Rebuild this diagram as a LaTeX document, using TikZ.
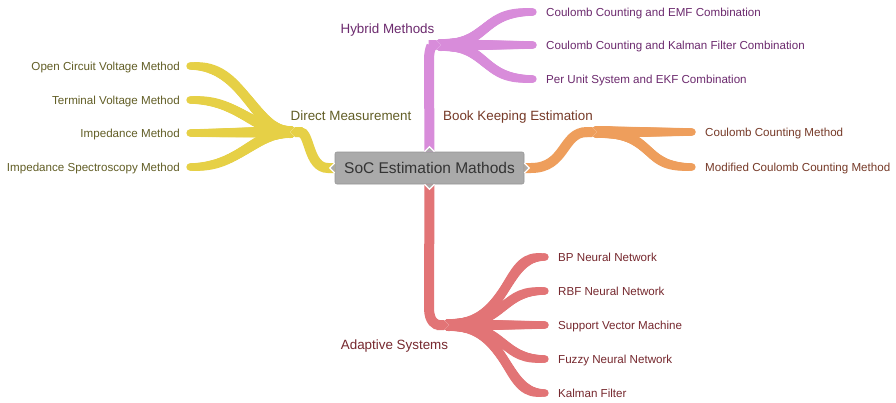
\documentclass[tikz,border=0pt]{standalone}
\usepackage{fontspec}
\setmainfont{Liberation Sans}
\usetikzlibrary{arrows.meta,decorations.markings}

\definecolor{ybranch}{RGB}{230,208,70}
\definecolor{ytext}{RGB}{98,94,38}
\definecolor{pbranch}{RGB}{216,140,218}
\definecolor{ptext}{RGB}{108,42,110}
\definecolor{obranch}{RGB}{238,158,92}
\definecolor{otext}{RGB}{118,58,40}
\definecolor{rbranch}{RGB}{226,116,118}
\definecolor{rtext}{RGB}{118,40,46}
\definecolor{boxfill}{RGB}{170,170,170}
\definecolor{boxline}{RGB}{150,150,150}
\definecolor{boxtext}{RGB}{52,52,52}

\pgfdeclarelayer{branches}
\pgfsetlayers{branches,main}

\tikzset{
  % main branch from the central box to a category
  stem/.style={color=#1, line width=10pt, -{Triangle Cap}},
  % white outline that cuts the notch into the following fan
  halo/.style={white, line width=13pt, -{Triangle Cap}},
  % tapered leaf branch: thick at the root, thin and pointed at the tip
  leaf/.style={color=#1, line width=7.6pt, -{Triangle Cap},
    postaction={decorate, decoration={markings,
      mark=between positions 0 and 1 step 0.01 with {%
        \pgfmathsetmacro\rr{6-2.2*\pgfkeysvalueof{/pgf/decoration/mark info/distance from start}/\pgfdecoratedpathlength}%
        \fill[#1] (0,0) circle (\rr pt);}}}},
  leaflabel/.style={inner sep=0pt, font=\fontsize{11.6}{13}\selectfont,
    text height=8.3pt, text depth=0pt},
  catlabel/.style={inner sep=0pt, font=\fontsize{13.4}{15}\selectfont,
    text height=9.6pt, text depth=0pt},
  centralbox/.style={draw=boxline, fill=boxfill, rounded corners=2pt,
    line width=0.6pt, minimum width=189pt, minimum height=32pt, inner sep=0pt,
    text=boxtext, font=\fontsize{15.5}{18}\selectfont,
    text height=11.1pt, text depth=0pt},
  boxpoint/.style={fill=boxfill, draw=white, line width=1.2pt}
}

\begin{document}
\begin{tikzpicture}[x=1pt, y=-1pt]
\useasboundingbox (0,0) rectangle (896,402);

% ---- central topic ----
\node[centralbox] (soc) at (429.5,168) {SoC Estimation Mathods};
\filldraw[boxpoint] ([yshift=5pt]soc.west) -- ([xshift=-5pt]soc.west) -- ([yshift=-5pt]soc.west);
\filldraw[boxpoint] ([yshift=5pt]soc.east) -- ([xshift=5pt]soc.east) -- ([yshift=-5pt]soc.east);
\filldraw[boxpoint] ([xshift=-5pt]soc.north) -- ([yshift=5pt]soc.north) -- ([xshift=5pt]soc.north);
\filldraw[boxpoint] ([xshift=-5pt]soc.south) -- ([yshift=-5pt]soc.south) -- ([xshift=5pt]soc.south);

% ---- category labels ----
\node[catlabel, text=ytext] (dm) at (351,116) {Direct Measurement};
\node[catlabel, text=ptext] (hm) at (387.5,29) {Hybrid Methods};
\node[catlabel, text=otext] (bk) at (518,116) {Book Keeping Estimation};
\node[catlabel, text=rtext] (as) at (394.5,345) {Adaptive Systems};

% ---- junctions where the fans begin ----
\coordinate (jDM) at (290,132);
\coordinate (jHM) at (441,45);
\coordinate (jBK) at (597,132);
\coordinate (jAS) at (449,325);

% ---- leaf tips ----
\coordinate (y1) at (190,66);
\coordinate (y2) at (190,100);
\coordinate (y3) at (190,133);
\coordinate (y4) at (190,167);
\coordinate (p1) at (533,12);
\coordinate (p2) at (533,45);
\coordinate (p3) at (533,79);
\coordinate (o1) at (692,132);
\coordinate (o2) at (692,167);
\coordinate (r1) at (545,257);
\coordinate (r2) at (545,291);
\coordinate (r3) at (545,325);
\coordinate (r4) at (545,359);
\coordinate (r5) at (545,393);

% ---- leaf labels ----
\node[leaflabel, text=ytext, anchor=east] (ly1) at ([xshift=-10pt]y1) {Open Circuit Voltage Method};
\node[leaflabel, text=ytext, anchor=east] (ly2) at ([xshift=-10pt]y2) {Terminal Voltage Method};
\node[leaflabel, text=ytext, anchor=east] (ly3) at ([xshift=-10pt]y3) {Impedance Method};
\node[leaflabel, text=ytext, anchor=east] (ly4) at ([xshift=-10pt]y4) {Impedance Spectroscopy Method};
\node[leaflabel, text=ptext, anchor=west] (lp1) at ([xshift=13pt]p1) {Coulomb Counting and EMF Combination};
\node[leaflabel, text=ptext, anchor=west] (lp2) at ([xshift=13pt]p2) {Coulomb Counting and Kalman Filter Combination};
\node[leaflabel, text=ptext, anchor=west] (lp3) at ([xshift=13pt]p3) {Per Unit System and EKF Combination};
\node[leaflabel, text=otext, anchor=west] (lo1) at ([xshift=13pt]o1) {Coulomb Counting Method};
\node[leaflabel, text=otext, anchor=west] (lo2) at ([xshift=13pt]o2) {Modified Coulomb Counting Method};
\node[leaflabel, text=rtext, anchor=west] (lr1) at ([xshift=13pt]r1) {BP Neural Network};
\node[leaflabel, text=rtext, anchor=west] (lr2) at ([xshift=13pt]r2) {RBF Neural Network};
\node[leaflabel, text=rtext, anchor=west] (lr3) at ([xshift=13pt]r3) {Support Vector Machine};
\node[leaflabel, text=rtext, anchor=west] (lr4) at ([xshift=13pt]r4) {Fuzzy Neural Network};
\node[leaflabel, text=rtext, anchor=west] (lr5) at ([xshift=13pt]r5) {Kalman Filter};

\begin{pgfonlayer}{branches}
  \fill[white] (0,0) rectangle (896,402);

  % leaves
  \draw[leaf=ybranch] (jDM) .. controls (255,132) and (245,66) .. (y1);
  \draw[leaf=ybranch] (jDM) .. controls (255,132) and (240,100) .. (y2);
  \draw[leaf=ybranch] (jDM) .. controls (250,132) and (230,133) .. (y3);
  \draw[leaf=ybranch] (jDM) .. controls (255,132) and (240,167) .. (y4);

  \draw[leaf=pbranch] (jHM) .. controls (488,45) and (480,12) .. (p1);
  \draw[leaf=pbranch] (jHM) -- (p2);
  \draw[leaf=pbranch] (jHM) .. controls (488,45) and (480,79) .. (p3);

  \draw[leaf=obranch] (jBK) -- (o1);
  \draw[leaf=obranch] (jBK) .. controls (655,132) and (640,167) .. (o2);

  \draw[leaf=rbranch] (jAS) .. controls (508,325) and (503,257) .. (r1);
  \draw[leaf=rbranch] (jAS) .. controls (505,325) and (500,291) .. (r2);
  \draw[leaf=rbranch] (jAS) -- (r3);
  \draw[leaf=rbranch] (jAS) .. controls (505,325) and (500,359) .. (r4);
  \draw[leaf=rbranch] (jAS) .. controls (508,325) and (503,393) .. (r5);

  % outlines of the main branches
  \draw[halo] ([xshift=8pt]soc.west) -- (328,168) .. controls (308,168) and (310,132) .. (jDM);
  \draw[halo] ([yshift=-8pt]soc.north) -- (429,60) .. controls (429,47) and (433,45) .. (jHM);
  \draw[halo] ([xshift=-8pt]soc.east) -- (531,168) .. controls (566,168) and (562,132) .. (jBK);
  \draw[halo] ([yshift=8pt]soc.south) -- (429,308) .. controls (429,322) and (436,325) .. (jAS);

  % main branches
  \draw[stem=ybranch] ([xshift=8pt]soc.west) -- (328,168) .. controls (308,168) and (310,132) .. (jDM);
  \draw[stem=pbranch] ([yshift=-8pt]soc.north) -- (429,60) .. controls (429,47) and (433,45) .. (jHM);
  \draw[stem=obranch] ([xshift=-8pt]soc.east) -- (531,168) .. controls (566,168) and (562,132) .. (jBK);
  \draw[stem=rbranch] ([yshift=8pt]soc.south) -- (429,308) .. controls (429,322) and (436,325) .. (jAS);
\end{pgfonlayer}
\end{tikzpicture}
\end{document}
